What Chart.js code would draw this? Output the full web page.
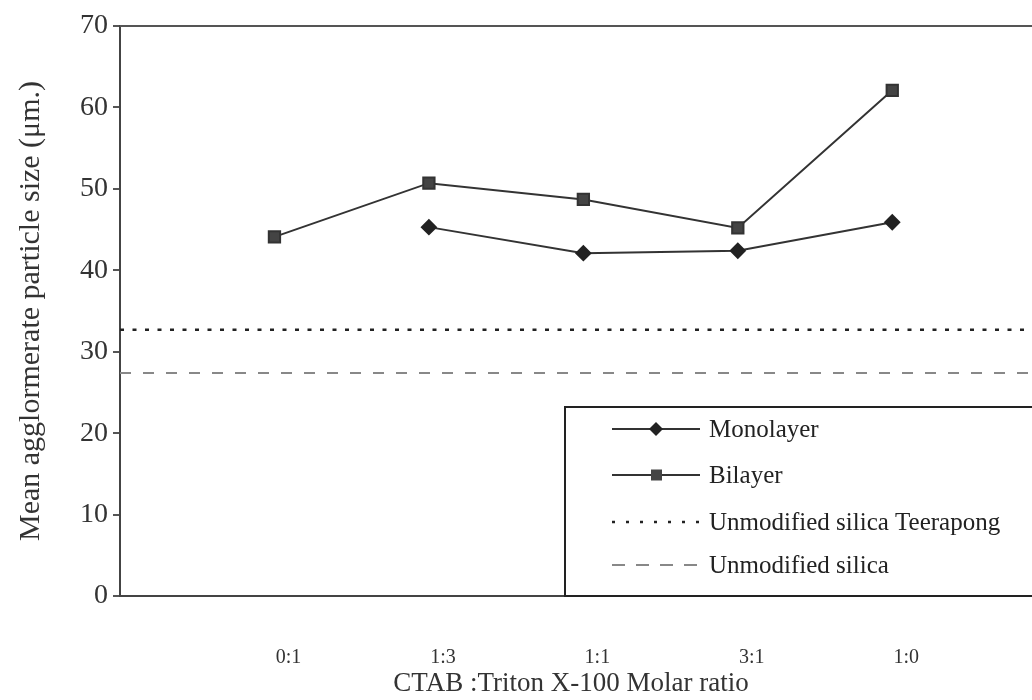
<!DOCTYPE html>
<html>
<head>
<meta charset="utf-8">
<script src="https://cdn.jsdelivr.net/npm/chart.js@4/dist/chart.umd.min.js"></script>
<style>
	html,body{margin:0;padding:0;background:#fff;overflow:hidden;}
	#box{width:1032px;height:700px;}
</style>
</head>
<body>
<div id="box"><canvas id="chart1"></canvas></div>
<script>
// categories; position 0 is the empty slot at the y axis, the plot runs on past the right edge
var ratios=["","0:1","1:3","1:1","3:1","1:0",""];
var monolayer=[null,null,45.3,42.1,42.4,45.9,null];
var bilayer=[null,44.1,50.7,48.7,45.2,62.1,null];
var teerapong=[32.7,32.7,32.7,32.7,32.7,32.7,32.7];
var unmodified=[27.4,27.4,27.4,27.4,27.4,27.4,27.4];
var yTicks=[0,10,20,30,40,50,60,70];

var serif="'Liberation Serif','DejaVu Serif',serif";

function toPoints(arr){
	var out=[];
	for(var i=0;i<arr.length;i++){
		if(arr[i]!=null){
			out.push({x:i,y:arr[i]});
		}
	}
	return out;
}

var datasets=[
	{label:"Monolayer",data:toPoints(monolayer),borderColor:"#333",borderWidth:2,pointStyle:"rectRot",pointRadius:7,pointBackgroundColor:"#222",pointBorderColor:"#222",fill:false},
	{label:"Bilayer",data:toPoints(bilayer),borderColor:"#333",borderWidth:2,pointStyle:"rect",pointRadius:8,pointBackgroundColor:"#444",pointBorderColor:"#333",fill:false},
	{label:"Unmodified silica Teerapong",data:toPoints(teerapong),borderColor:"#222",borderWidth:2.5,borderDash:[4,8.5],pointRadius:0,fill:false,clip:false},
	{label:"Unmodified silica",data:toPoints(unmodified),borderColor:"#888",borderWidth:2,borderDash:[11,12],pointRadius:0,fill:false,clip:false}
];

// top edge of the plot area
var frame={
	id:"frame",
	beforeDatasetsDraw:function(chart){
		var c=chart.ctx,a=chart.chartArea;
		c.save();
		c.strokeStyle="#555";
		c.lineWidth=2;
		c.beginPath();
		c.moveTo(a.left,a.top);
		c.lineTo(chart.width,a.top);
		c.stroke();
		c.restore();
	}
};

// boxed legend sitting inside the plot area
var boxLegend={
	id:"boxLegend",
	afterDraw:function(chart){
		var c=chart.ctx,a=chart.chartArea;
		var x0=565,y0=407,y1=a.bottom;
		var rows=[429,475,522,565];
		c.save();
		c.fillStyle="#fff";
		c.fillRect(x0,y0,chart.width-x0+10,y1-y0);
		c.strokeStyle="#222";
		c.lineWidth=2;
		c.strokeRect(x0,y0,chart.width-x0+10,y1-y0);
		for(var i=0;i<datasets.length;i++){
			var d=datasets[i],y=rows[i];
			c.strokeStyle=d.borderColor;
			c.lineWidth=d.borderWidth;
			c.setLineDash(i==2?[3,11]:(i==3?[13,11]:[]));
			c.beginPath();
			c.moveTo(612,y);
			c.lineTo(700,y);
			c.stroke();
			c.setLineDash([]);
			if(d.pointRadius>0){
				c.fillStyle=d.pointBackgroundColor;
				if(d.pointStyle=="rect"){
					c.fillRect(651,y-5.5,11,11);
				}else{
					c.beginPath();
					c.moveTo(656,y-7);c.lineTo(663,y);c.lineTo(656,y+7);c.lineTo(649,y);
					c.closePath();
					c.fill();
				}
			}
			c.fillStyle="#222";
			c.font="25px "+serif;
			c.textBaseline="middle";
			c.fillText(d.label,709,y+1);
		}
		c.restore();
	}
};

var chart1=new Chart(document.getElementById("chart1").getContext("2d"),{
	type:"line",
	data:{datasets:datasets},
	plugins:[frame,boxLegend],
	options:{
		responsive:true,
		maintainAspectRatio:false,
		animation:false,
		layout:{padding:{top:26,right:0,left:0,bottom:0}},
		plugins:{legend:{display:false},tooltip:{enabled:false}},
		scales:{
			x:{
				type:"linear",
				min:0,max:5.84,
				afterBuildTicks:function(s){
					var t=[];
					for(var i=1;i<ratios.length-1;i++){t.push({value:i});}
					s.ticks=t;
				},
				grid:{display:false},
				border:{display:true,color:"#444",width:2},
				ticks:{autoSkip:false,maxRotation:0,minRotation:0,color:"#333",font:{family:serif,size:20},padding:42,labelOffset:14,
					callback:function(v){return ratios[v];}},
				title:{display:true,text:"CTAB :Triton X-100 Molar ratio",color:"#333",font:{family:serif,size:27},padding:{top:11,bottom:0}},
				afterFit:function(s){s.height=104;}
			},
			y:{
				min:0,max:70,
				afterBuildTicks:function(s){s.ticks=yTicks.map(function(v){return {value:v};});},
				grid:{display:true,drawOnChartArea:false,drawTicks:true,tickLength:7,color:"#555",lineWidth:2},
				border:{display:true,color:"#444",width:2},
				ticks:{color:"#333",font:{family:serif,size:28},padding:5},
				title:{display:true,text:"Mean agglormerate particle size (\u03bcm.)",color:"#333",font:{family:serif,size:30},padding:{top:13,bottom:0}},
				afterFit:function(s){s.width=120;}
			}
		}
	}
});
</script>
</body>
</html>
